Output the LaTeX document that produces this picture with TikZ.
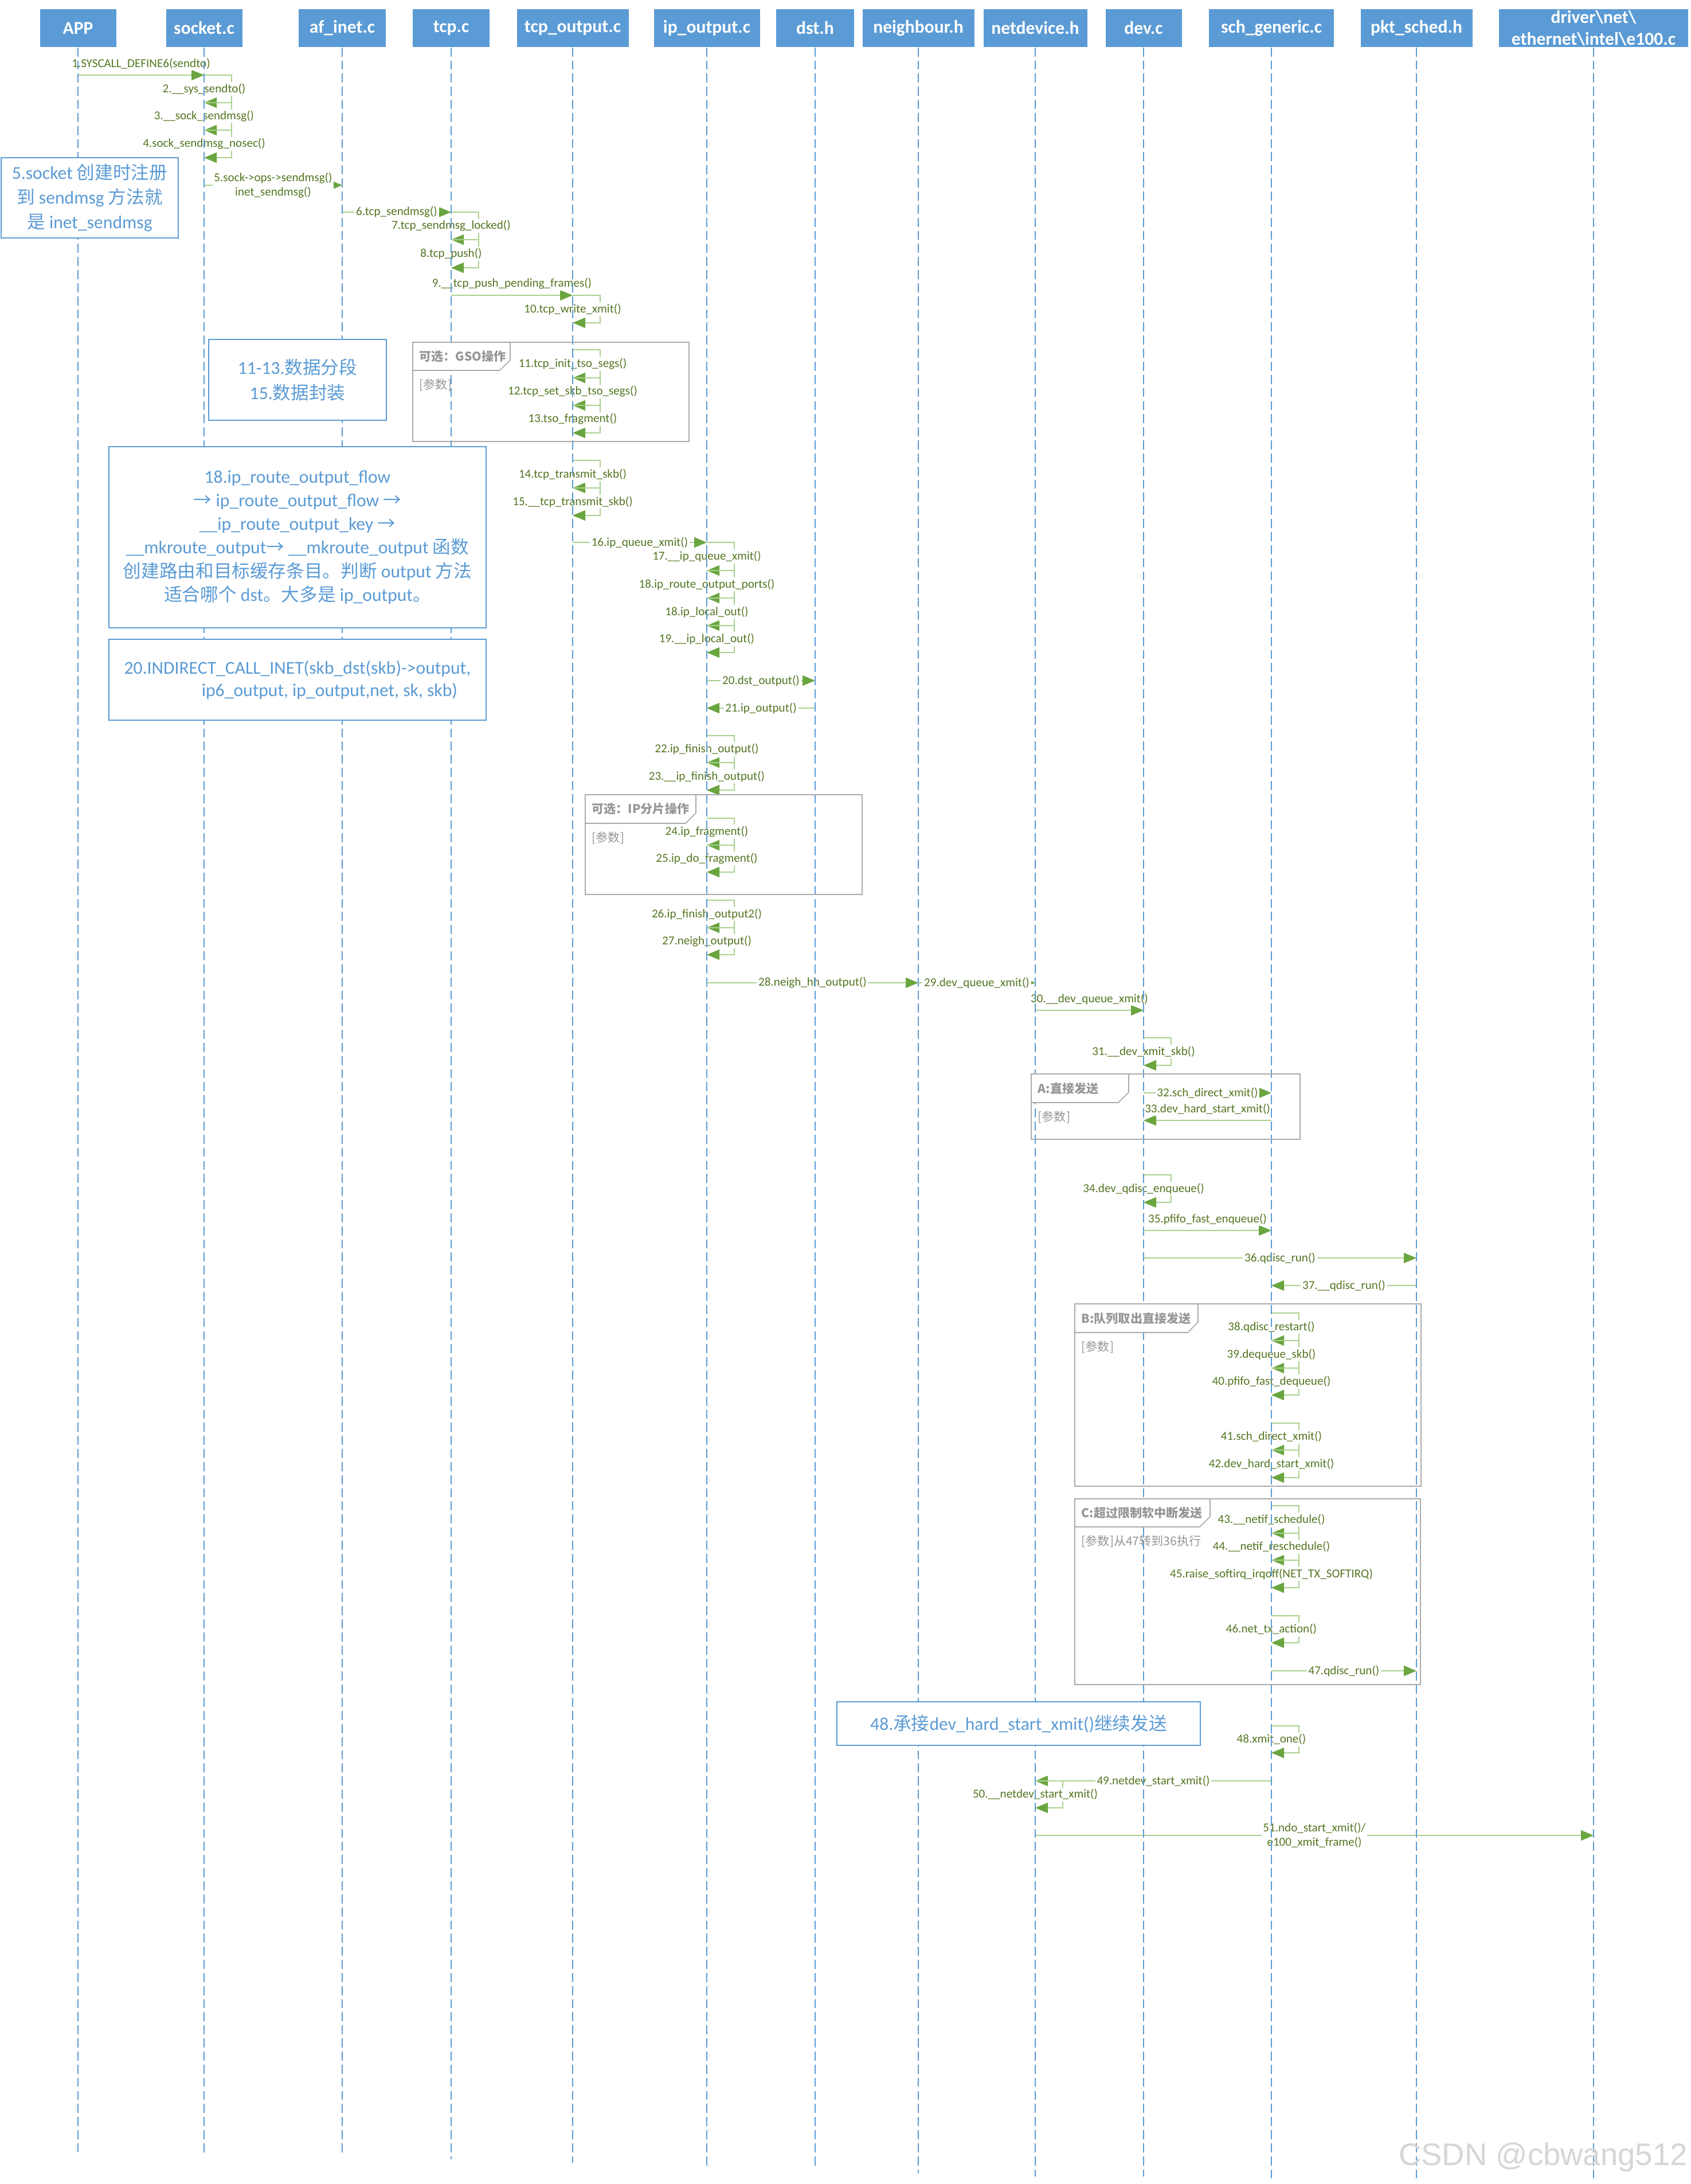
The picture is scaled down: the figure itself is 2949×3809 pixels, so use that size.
\documentclass[tikz,border=0pt]{standalone}
\usepackage{fontspec}
\setmainfont{Carlito}
\newfontfamily\cjk{Noto Sans CJK SC}
\newfontfamily\wmfont{Liberation Sans}
\usepackage{tikz}
\usetikzlibrary{arrows.meta,calc}
\definecolor{hdrblue}{RGB}{91,155,213}
\definecolor{lngreen}{RGB}{169,209,142}
\definecolor{tipgreen}{RGB}{106,165,64}
\definecolor{txgreen}{RGB}{84,118,34}
\definecolor{frgray}{RGB}{170,170,170}
\definecolor{frtext}{RGB}{150,150,150}
\definecolor{wmgray}{RGB}{214,214,214}
\newcommand{\zh}[1]{{\cjk #1}}
% message between two lifelines: name, from, to, y, label
\newcommand{\callmsg}[5]{%
  \draw[msgline] (#2 |- 0,#4) -- node[msglabel] (#1) {#5} (#3 |- 0,#4);}
\newcommand{\callabove}[5]{%
  \draw[msgline] (#2 |- 0,#4) -- node[msglabel,yshift=2mm] (#1) {#5} (#3 |- 0,#4);}
% self call: name, lifeline, top, bottom, label
\newcommand{\selfcall}[5]{%
  \draw[msgline] (#2 |- 0,#3) -- ++(48,0) |- (#2 |- 0,#4);
  \node[msglabel] (#1) at (#2 |- 0,{(#3+#4)/2}) {#5};}
% combined fragment: name, x1, y1, x2, y2, tab x, tab y, title, guard
\newcommand{\combfrag}[9]{%
  \draw[frag] (#2,#3) rectangle (#4,#5);
  \filldraw[frag,fill=white] (#2,#3) -- (#6,#3) -- (#6,#7-18) -- (#6-18,#7) -- (#2,#7) -- cycle;
  \node[fragtitle] (#1) at (#2+11,{(#3+#7)/2}) {#8};
  \node[fragguard] (#1-g) at (#2+11,#7+25) {#9};}

\begin{document}
\begin{tikzpicture}[x=0.1mm,y=-0.1mm,
  hdr/.style={fill=hdrblue,text=white,font=\bfseries\fontsize{9}{10.8}\selectfont,
    minimum height=6.6mm,inner sep=0pt,align=center},
  lifeline/.style={draw=hdrblue,line width=0.4pt,dash pattern=on 4.5pt off 2pt},
  msgline/.style={draw=lngreen,line width=0.45pt,
    -{Triangle[length=2.2mm,width=1.8mm,color=tipgreen]}},
  msglabel/.style={text=txgreen,font=\fontsize{6}{7.2}\selectfont,fill=white,
    inner sep=0.8pt,align=center},
  frag/.style={draw=frgray,line width=0.45pt},
  fragtitle/.style={anchor=west,text=frtext,inner sep=0pt,
    font=\fontsize{6}{7}\selectfont\cjk\bfseries},
  fragguard/.style={anchor=west,text=frtext,inner sep=0pt,
    font=\fontsize{6}{7}\selectfont\cjk},
  note/.style={draw=hdrblue,line width=0.5pt,fill=white,text=hdrblue,align=center,
    inner sep=0pt,font=\fontsize{9}{11.7}\selectfont}]
  \fill[white] (0,0) rectangle (2949,3809);
  \useasboundingbox (0,0) rectangle (2949,3809);

  % headers
  \node[hdr,minimum width=13.3mm] (app) at (136,49) {APP};
  \node[hdr,minimum width=13.3mm] (sock) at (356,49) {socket.c};
  \node[hdr,minimum width=15.2mm] (afinet) at (597,49) {af\_inet.c};
  \node[hdr,minimum width=13.4mm] (tcp) at (787,49) {tcp.c};
  \node[hdr,minimum width=19.5mm] (tcpout) at (999,49) {tcp\_output.c};
  \node[hdr,minimum width=18.5mm] (ipout) at (1233,49) {ip\_output.c};
  \node[hdr,minimum width=13.6mm] (dst) at (1422,49) {dst.h};
  \node[hdr,minimum width=19.5mm] (neigh) at (1602,49) {neighbour.h};
  \node[hdr,minimum width=18.1mm] (netdev) at (1806,49) {netdevice.h};
  \node[hdr,minimum width=13.3mm] (dev) at (1995,49) {dev.c};
  \node[hdr,minimum width=21.8mm] (sch) at (2218,49) {sch\_generic.c};
  \node[hdr,minimum width=19.5mm] (pkt) at (2471,49) {pkt\_sched.h};
  \node[hdr,minimum width=33mm] (drv) at (2780,49) {driver\textbackslash net\textbackslash\\ethernet\textbackslash intel\textbackslash e100.c};

  % socket layer
  \callabove{m1}{app}{sock}{131}{1.SYSCALL\_DEFINE6(sendto)}
  \selfcall{m2}{sock}{131}{179}{2.\_\_sys\_sendto()}
  \selfcall{m3}{sock}{179}{227}{3.\_\_sock\_sendmsg()}
  \selfcall{m4}{sock}{227}{275}{4.sock\_sendmsg\_nosec()}
  \callmsg{m5}{sock}{afinet}{323}{5.sock->ops->sendmsg()\\inet\_sendmsg()}

  % tcp layer
  \callmsg{m6}{afinet}{tcp}{370}{6.tcp\_sendmsg()}
  \selfcall{m7}{tcp}{370}{418}{7.tcp\_sendmsg\_locked()}
  \selfcall{m8}{tcp}{418}{467}{8.tcp\_push()}
  \callabove{m9}{tcp}{tcpout}{515}{9.\_\_tcp\_push\_pending\_frames()}
  \selfcall{m10}{tcpout}{515}{563}{10.tcp\_write\_xmit()}
  \selfcall{m11}{tcpout}{610}{659}{11.tcp\_init\_tso\_segs()}
  \selfcall{m12}{tcpout}{659}{707}{12.tcp\_set\_skb\_tso\_segs()}
  \selfcall{m13}{tcpout}{707}{755}{13.tso\_fragment()}
  \selfcall{m14}{tcpout}{803}{851}{14.tcp\_transmit\_skb()}
  \selfcall{m15}{tcpout}{851}{899}{15.\_\_tcp\_transmit\_skb()}

  % ip layer
  \callmsg{m16}{tcpout}{ipout}{946}{16.ip\_queue\_xmit()}
  \selfcall{m17}{ipout}{946}{995}{17.\_\_ip\_queue\_xmit()}
  \selfcall{m18a}{ipout}{995}{1043}{18.ip\_route\_output\_ports()}
  \selfcall{m18b}{ipout}{1043}{1091}{18.ip\_local\_out()}
  \selfcall{m19}{ipout}{1091}{1138}{19.\_\_ip\_local\_out()}
  \callmsg{m20}{ipout}{dst}{1187}{20.dst\_output()}
  \callmsg{m21}{dst}{ipout}{1235}{21.ip\_output()}
  \selfcall{m22}{ipout}{1283}{1330}{22.ip\_finish\_output()}
  \selfcall{m23}{ipout}{1330}{1378}{23.\_\_ip\_finish\_output()}
  \selfcall{m24}{ipout}{1427}{1474}{24.ip\_fragment()}
  \selfcall{m25}{ipout}{1474}{1521}{25.ip\_do\_fragment()}
  \selfcall{m26}{ipout}{1570}{1618}{26.ip\_finish\_output2()}
  \selfcall{m27}{ipout}{1618}{1665}{27.neigh\_output()}

  % device layer
  \callmsg{m28}{ipout}{neigh}{1714}{28.neigh\_hh\_output()}
  \callmsg{m29}{neigh}{netdev}{1714}{29.dev\_queue\_xmit()}
  \callabove{m30}{netdev}{dev}{1762}{30.\_\_dev\_queue\_xmit()}
  \selfcall{m31}{dev}{1810}{1858}{31.\_\_dev\_xmit\_skb()}
  \callmsg{m32}{dev}{sch}{1906}{32.sch\_direct\_xmit()}
  \callabove{m33}{sch}{dev}{1954}{33.dev\_hard\_start\_xmit()}
  \selfcall{m34}{dev}{2049}{2097}{34.dev\_qdisc\_enqueue()}
  \callabove{m35}{dev}{sch}{2146}{35.pfifo\_fast\_enqueue()}
  \callmsg{m36}{dev}{pkt}{2194}{36.qdisc\_run()}
  \callmsg{m37}{pkt}{sch}{2242}{37.\_\_qdisc\_run()}
  \selfcall{m38}{sch}{2290}{2338}{38.qdisc\_restart()}
  \selfcall{m39}{sch}{2338}{2386}{39.dequeue\_skb()}
  \selfcall{m40}{sch}{2386}{2433}{40.pfifo\_fast\_dequeue()}
  \selfcall{m41}{sch}{2482}{2529}{41.sch\_direct\_xmit()}
  \selfcall{m42}{sch}{2529}{2577}{42.dev\_hard\_start\_xmit()}
  \selfcall{m43}{sch}{2626}{2674}{43.\_\_netif\_schedule()}
  \selfcall{m44}{sch}{2674}{2721}{44.\_\_netif\_reschedule()}
  \selfcall{m45}{sch}{2721}{2769}{45.raise\_softirq\_irqoff(NET\_TX\_SOFTIRQ)}
  \selfcall{m46}{sch}{2818}{2865}{46.net\_tx\_action()}
  \callmsg{m47}{sch}{pkt}{2914}{47.qdisc\_run()}
  \selfcall{m48}{sch}{3010}{3057}{48.xmit\_one()}
  \callmsg{m49}{sch}{netdev}{3106}{49.netdev\_start\_xmit()}
  \selfcall{m50}{netdev}{3106}{3153}{50.\_\_netdev\_start\_xmit()}
  \callmsg{m51}{netdev}{drv}{3201}{51.ndo\_start\_xmit()/\\e100\_xmit\_frame()}

  % lifelines
  \draw[lifeline] (app.south) -- (app |- 0,3753);
  \draw[lifeline] (sock.south) -- (sock |- 0,3760);
  \draw[lifeline] (afinet.south) -- (afinet |- 0,3760);
  \draw[lifeline] (tcp.south) -- (tcp |- 0,3766);
  \draw[lifeline] (tcpout.south) -- (tcpout |- 0,3772);
  \draw[lifeline] (ipout.south) -- (ipout |- 0,3782);
  \draw[lifeline] (dst.south) -- (dst |- 0,3782);
  \draw[lifeline] (neigh.south) -- (neigh |- 0,3790);
  \draw[lifeline] (netdev.south) -- (netdev |- 0,3796);
  \draw[lifeline] (dev.south) -- (dev |- 0,3796);
  \draw[lifeline] (sch.south) -- (sch |- 0,3800);
  \draw[lifeline] (pkt.south) -- (pkt |- 0,3802);
  \draw[lifeline] (drv.south) -- (drv |- 0,3802);

  % fragments
  \combfrag{gso}{720}{597}{1202}{770}{890}{646}{可选：GSO操作}{[参数]}
  \combfrag{ipfrag}{1021}{1386}{1504}{1560}{1214}{1436}{可选：IP分片操作}{[参数]}
  \combfrag{fa}{1799}{1873}{2268}{1987}{1969}{1923}{A:直接发送}{[参数]}
  \combfrag{fb}{1875}{2274}{2479}{2592}{2090}{2324}{B:队列取出直接发送}{[参数]}
  \combfrag{fc}{1875}{2614}{2478}{2938}{2111}{2663}{C:超过限制软中断发送}{[参数]从47转到36执行}

  % notes
  \node[note,minimum width=30.9mm,minimum height=14mm,font=\fontsize{9}{12.3}\selectfont] (n5) at (156.5,345)
    {5.socket \zh{创建时注册}\\\zh{到} sendmsg \zh{方法就}\\\zh{是} inet\_sendmsg};
  \node[note,minimum width=31mm,minimum height=14.1mm,font=\fontsize{9}{12.3}\selectfont] (n11) at (519,662.5)
    {11-13.\zh{数据分段}\\15.\zh{数据封装}};
  \node[note,minimum width=65.8mm,minimum height=31.6mm] (n18) at (519,937)
    {18.ip\_route\_output\_flow\\
     \zh{→} ip\_route\_output\_flow \zh{→}\\
     \_\_ip\_route\_output\_key \zh{→}\\
     \_\_mkroute\_output\zh{→} \_\_mkroute\_output \zh{函数}\\
     \zh{创建路由和目标缓存条目。判断} output \zh{方法}\\
     \zh{适合哪个} dst\zh{。大多是} ip\_output\zh{。}};
  \node[note,minimum width=65.8mm,minimum height=14.1mm,font=\fontsize{9}{11.1}\selectfont] (n20) at (519,1185.5)
    {20.INDIRECT\_CALL\_INET(skb\_dst(skb)->output,\\
     \hspace*{11.2mm}ip6\_output, ip\_output,net, sk, skb)};
  \node[note,minimum width=63.4mm,minimum height=7.6mm] (n48) at (1777,3006)
    {48.\zh{承接}dev\_hard\_start\_xmit()\zh{继续发送}};

  % watermark
  \node[text=wmgray,font=\wmfont\fontsize{15.5}{17}\selectfont,inner sep=0pt] (wm) at (2692,3762) {CSDN @cbwang512};
\end{tikzpicture}
\end{document}
